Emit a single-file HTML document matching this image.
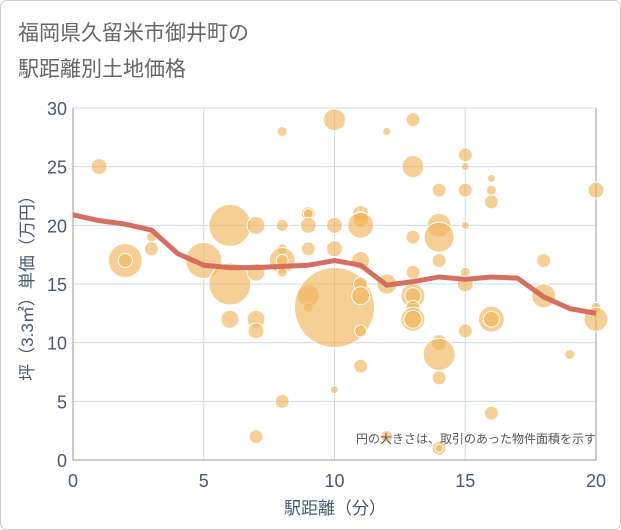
<!DOCTYPE html>
<html><head><meta charset="utf-8"><style>
body{margin:0;background:#fff}
svg{display:block;font-family:"Liberation Sans","Noto Sans CJK JP",sans-serif}
</style></head><body>
<svg id="c" width="621" height="530" viewBox="0 0 621 530">
<rect x="0.5" y="0.5" width="620" height="529" fill="#fff" stroke="#ccc" rx="6"/>
<text x="18" y="40" font-size="21" fill="#666">福岡県久留米市御井町の</text>
<text x="18" y="76" font-size="21" fill="#666">駅距離別土地価格</text>
<g id="grid"></g>
<g id="bubbles"></g>
<g id="trend"></g>
<text x="596" y="443" font-size="12" fill="#555" text-anchor="end">円の大きさは、取引のあった物件面積を示す</text>
<text x="335" y="514" font-size="17" fill="#4a5a6e" text-anchor="middle">駅距離（分）</text>
<text transform="translate(33,284) rotate(-90)" font-size="17" fill="#4a5a6e" text-anchor="middle">坪（3.3㎡）単価（万円）</text>
</svg>
<script>
const xTicks=[0,5,10,15,20];
const yTicks=[0,5,10,15,20,25,30];
const bx=[1,2,2,3,3,5,6,6,7,7,6,7,7,7,8,8,8,8,8,8,8,9,9,9,9,9,9,10,10,10,10,10,11,11,11,11,11,11,11,11,12,12,12,13,13,13,13,13,13,13,13,13,14,14,14,14,14,14,14,14,14,15,15,15,15,15,15,15,16,16,16,16,16,16,18,18,19,20,20,20];
const by=[25,17,17,19,18,17,20,15,20,16,12,12,11,2,28,20,18,17,17,16,5,21,21,20,18,14,13,29,20,18,13,6,21,20.5,20,17,15,14,11,8,28,2,15,29,25,19,16,14,14,13,12,12,23,20,19,17,10,9,7,1,1,26,25,23,20,16,15,11,24,23,22,12,12,4,17,14,9,23,13,12];
const br=[8,17,7,5,7,18,21,21,9,9,9,9,8,7,5,6,5,13,6,5,7,7,5,8,7,11,5,11,8,8,40,4,8,8,13,9,7,9,6,7,4,6,10,7,11,7,7,12,8,7,12,9,7,12,15,7,8,16,7,7,4,7,4,7,4,5,8,7,4,5,7,13,8,7,7,12,5,8,5,12];
const lineX=[0,1,2,3,4,5,6,7,8,9,10,11,12,13,14,15,16,17,18,19,20];
const lineY=[20.9,20.4,20.1,19.6,17.6,16.6,16.4,16.4,16.5,16.6,17.0,16.6,14.9,15.2,15.6,15.4,15.6,15.5,13.9,12.9,12.5];
const X0=73,X1=596,Y0=460,Y1=108;
const sx=v=>X0+(v-0)/20*(X1-X0);
const sy=v=>Y0-(v-0)/30*(Y0-Y1);
const NS="http://www.w3.org/2000/svg";
function mk(t,a,p){const e=document.createElementNS(NS,t);for(const k in a)e.setAttribute(k,a[k]);p.appendChild(e);return e;}
const g=document.getElementById('grid');
xTicks.forEach(t=>{
 const l=mk('line',{x1:sx(t),x2:sx(t),y1:Y1,y2:Y0,stroke:'#cdd8e4','stroke-width':1},g);
 
 
 const tx=mk('text',{x:sx(t),y:Y0+27,'font-size':18,fill:'#4a5a6e','text-anchor':'middle'},g);
 tx.textContent=t;
 
 
});
yTicks.forEach(t=>{
 const l=mk('line',{x1:X0,x2:X1,y1:sy(t),y2:sy(t),stroke:'#cdd8e4','stroke-width':1},g);
 
 
 const tx=mk('text',{x:X0-6,y:sy(t)+7,'font-size':18,fill:'#4a5a6e','text-anchor':'end'},g);
 tx.textContent=t;
 
 
});
const ax=mk('path',{d:`M${X0},${Y1}V${Y0}H${X1}V${Y1}`,fill:'none',stroke:'#999','stroke-width':1},g);


const bg=document.getElementById('bubbles');
bx.forEach((v,i)=>{
 const c=mk('circle',{cx:sx(v),cy:sy(by[i]),r:br[i],fill:'#f0b55c','fill-opacity':0.65,stroke:'#fff','stroke-width':1},bg);
 
 
});
const tg=document.getElementById('trend');
const p=mk('polyline',{points:lineX.map((v,i)=>sx(v)+','+sy(lineY[i])).join(' '),fill:'none',stroke:'#d4675a','stroke-width':5,'stroke-linejoin':'round','stroke-opacity':0.95},tg);


</script>
</body></html>
